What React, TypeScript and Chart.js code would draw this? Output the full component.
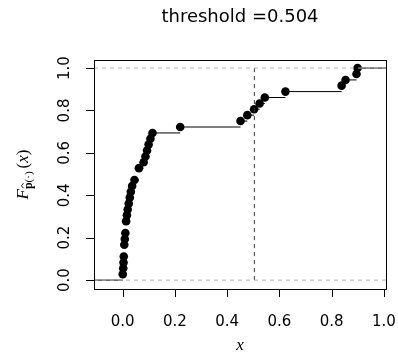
import React, { useEffect, useRef } from "react";
import { Chart, registerables } from "chart.js";

Chart.register(...registerables);

// ECDF support points (sorted unique values) and cumulative proportions
const ecdfX = [
  0.0, 0.002, 0.003, 0.004, 0.006, 0.008, 0.01, 0.013, 0.016, 0.019, 0.023,
  0.027, 0.031, 0.036, 0.045, 0.062, 0.08, 0.087, 0.093, 0.099, 0.106, 0.114,
  0.22, 0.451, 0.477, 0.503, 0.524, 0.544, 0.623, 0.838, 0.853, 0.895, 0.899,
];
const ecdfY = [
  0.028, 0.056, 0.083, 0.111, 0.167, 0.194, 0.222, 0.278, 0.306, 0.333, 0.361,
  0.389, 0.417, 0.444, 0.472, 0.528, 0.556, 0.583, 0.611, 0.639, 0.667, 0.694,
  0.722, 0.75, 0.778, 0.806, 0.833, 0.861, 0.889, 0.917, 0.944, 0.972, 1.0,
];
const threshold = 0.504;
const refLevels = [0, 1];
const xTicks = [0, 0.2, 0.4, 0.6, 0.8, 1.0];
const xTickLabels = ["0.0", "0.2", "0.4", "0.6", "0.8", "1.0"];
const yTicks = [0, 0.2, 0.4, 0.6, 0.8, 1.0];
const yTickLabels = ["0.0", "0.2", "0.4", "0.6", "0.8", "1.0"];
const titleText = "threshold =0.504";
const xRange = [-0.11, 1.008];
const yRange = [-0.042, 1.038];

const TICK_FONT = "15px 'DejaVu Sans'";
const TITLE_FONT = "18px 'DejaVu Sans'";

function buildSteps() {
  const out: { x: number; y: number | null }[] = [];
  out.push({ x: xRange[0], y: 0 }, { x: ecdfX[0], y: 0 }, { x: ecdfX[0], y: null });
  for (let i = 0; i < ecdfX.length; i++) {
    const nx = i + 1 < ecdfX.length ? ecdfX[i + 1] : xRange[1];
    out.push({ x: ecdfX[i], y: ecdfY[i] }, { x: nx, y: ecdfY[i] }, { x: nx, y: null });
  }
  return out;
}

const decorPlugin = {
  id: "decor",
  beforeDraw(chart: any) {
    const ctx = chart.ctx;
    ctx.save();
    ctx.fillStyle = "#ffffff";
    ctx.fillRect(0, 0, chart.width, chart.height);
    ctx.restore();
  },
  afterDraw(chart: any) {
    const ctx = chart.ctx as CanvasRenderingContext2D;
    const a = chart.chartArea;
    const xs = chart.scales.x;
    const ys = chart.scales.y;
    ctx.save();
    ctx.strokeStyle = "#000";
    ctx.lineWidth = 1;
    ctx.strokeRect(Math.round(a.left) + 0.5, Math.round(a.top) + 0.5, Math.round(a.right - a.left), Math.round(a.bottom - a.top));

    // axis ticks
    ctx.beginPath();
    xTicks.forEach((t) => {
      const px = Math.round(xs.getPixelForValue(t)) + 0.5;
      ctx.moveTo(px, a.bottom);
      ctx.lineTo(px, a.bottom + 8);
    });
    yTicks.forEach((t) => {
      const py = Math.round(ys.getPixelForValue(t)) + 0.5;
      ctx.moveTo(a.left, py);
      ctx.lineTo(a.left - 8, py);
    });
    ctx.stroke();

    ctx.fillStyle = "#000";
    ctx.font = TICK_FONT;
    ctx.textAlign = "center";
    ctx.textBaseline = "middle";
    xTicks.forEach((t, i) => {
      ctx.fillText(xTickLabels[i], xs.getPixelForValue(t), a.bottom + 33);
    });
    yTicks.forEach((t, i) => {
      ctx.save();
      ctx.translate(a.left - 29, ys.getPixelForValue(t));
      ctx.rotate(-Math.PI / 2);
      ctx.fillText(yTickLabels[i], 0, 0);
      ctx.restore();
    });

    // title
    ctx.font = TITLE_FONT;
    ctx.fillText(titleText, (a.left + a.right) / 2, 17);

    // x axis title
    ctx.font = "italic 17px 'Liberation Serif'";
    ctx.fillText("x", (a.left + a.right) / 2, 346);

    // y axis title: F_{p̂(·)}(x)
    ctx.save();
    ctx.translate(22, (a.top + a.bottom) / 2);
    ctx.rotate(-Math.PI / 2);
    ctx.textAlign = "left";
    ctx.textBaseline = "alphabetic";
    const fF = "italic 17px 'Liberation Serif'";
    const fSubB = "bold 12px 'Liberation Serif'";
    const fSub = "11px 'Liberation Serif'";
    const fMain = "17px 'Liberation Serif'";
    const fMainI = "italic 17px 'Liberation Serif'";
    const parts: [string, string, number][] = [
      ["F", fF, 0],
      ["p", fSubB, 4],
      ["(·)", fSub, 4],
      ["(", fMain, 0],
      ["x", fMainI, 0],
      [")", fMain, 0],
    ];
    let total = 0;
    const widths = parts.map(([s, f]) => {
      ctx.font = f;
      const w = ctx.measureText(s).width;
      total += w;
      return w;
    });
    total += 3;
    let cx = -total / 2;
    const base = 6;
    parts.forEach(([s, f, dy], i) => {
      ctx.font = f;
      if (i === 3) cx += 3;
      ctx.fillText(s, cx, base + dy);
      if (i === 1) {
        // hat over the bold p
        const hx = cx + widths[1] / 2;
        const hy = base + dy - 10;
        ctx.save();
        ctx.lineWidth = 0.9;
        ctx.beginPath();
        ctx.moveTo(hx - 2.5, hy + 1.5);
        ctx.lineTo(hx, hy - 0.5);
        ctx.lineTo(hx + 2.5, hy + 1.5);
        ctx.stroke();
        ctx.restore();
      }
      cx += widths[i];
    });
    ctx.restore();

    ctx.restore();
  },
};

export default function App() {
  const ref = useRef<HTMLCanvasElement>(null);
  useEffect(() => {
    document.body.style.margin = "0";
    const canvas = ref.current!;
    const chart = new Chart(canvas, {
      type: "line",
      data: {
        datasets: [
          {
            label: "refs",
            data: [
              { x: xRange[0], y: refLevels[0] },
              { x: xRange[1], y: refLevels[0] },
              { x: xRange[1], y: null },
              { x: xRange[0], y: refLevels[1] },
              { x: xRange[1], y: refLevels[1] },
            ] as any,
            borderColor: "#b3b3b3",
            borderWidth: 1,
            borderDash: [4, 4],
            pointRadius: 0,
            spanGaps: false,
            order: 0,
          },
          {
            label: "threshold",
            data: [
              { x: threshold, y: refLevels[0] },
              { x: threshold, y: refLevels[1] },
            ],
            borderColor: "#333333",
            borderWidth: 1,
            borderDash: [4, 4],
            pointRadius: 0,
            order: 0,
          },
          {
            label: "points",
            data: ecdfX.map((x, i) => ({ x, y: ecdfY[i] })),
            showLine: false,
            pointRadius: 4.3,
            pointBackgroundColor: "#000",
            pointBorderWidth: 0,
            borderColor: "#000",
            order: 1,
          },
          {
            label: "steps",
            data: buildSteps() as any,
            borderColor: "#000",
            borderWidth: 1,
            pointRadius: 0,
            spanGaps: false,
            order: 2,
          },
        ],
      },
      options: {
        animation: false,
        responsive: false,
        devicePixelRatio: 1,
        layout: { padding: { left: 94, right: 12, top: 60, bottom: 75 } },
        plugins: { legend: { display: false }, tooltip: { enabled: false } },
        scales: {
          x: { type: "linear", min: xRange[0], max: xRange[1], display: false },
          y: { type: "linear", min: yRange[0], max: yRange[1], display: false },
        },
      },
      plugins: [decorPlugin],
    });
    return () => chart.destroy();
  }, []);
  return (
    <canvas
      ref={ref}
      width={398}
      height={364}
      style={{ width: 398, height: 364, display: "block" }}
    />
  );
}
